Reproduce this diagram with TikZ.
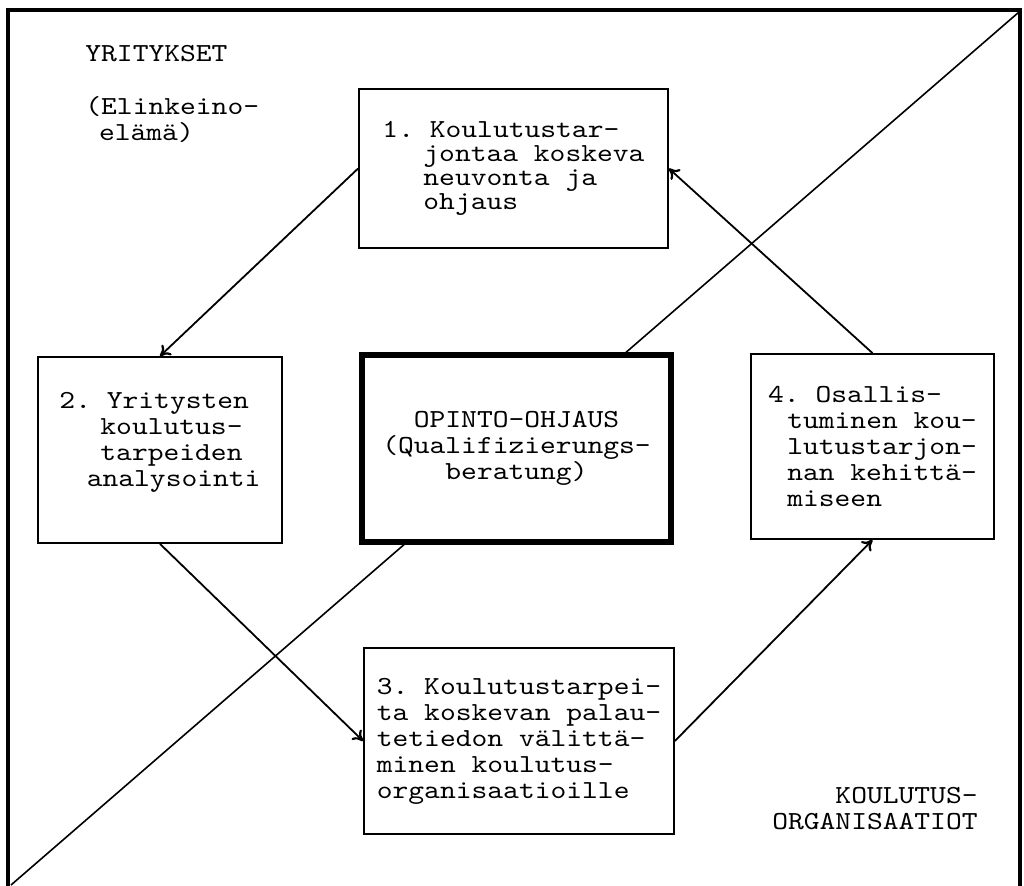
\documentclass[tikz,border=0pt]{standalone}
\usepackage{fontspec}
\setmonofont{lmmono10-regular.otf}[FakeStretch=1.157]
\usetikzlibrary{arrows.meta}

\begin{document}
\begin{tikzpicture}[x=0.5pt, y=-0.5pt,
    boxtext/.style={font=\ttfamily\fontsize{13}{13}\selectfont},
    stepbox/.style={boxtext, draw, fill=white, line width=0.9pt, align=left},
    flow/.style={line width=0.9pt, -{To[length=5pt,width=7pt,line width=1.1pt]}},
    sidelabel/.style={boxtext, inner sep=0pt}]

    \useasboundingbox (0,0) rectangle (1024,885);

    % 1. Frame and the diagonal behind the boxes
    \coordinate (sw) at (11,885);
    \coordinate (ne) at (1019,12);
    \draw[line width=0.8pt] (sw) -- (ne);
    \draw[line width=1.8pt] (8,10) rectangle (1020,888);

    % 2. The four steps and the centre box
    \node[stepbox, minimum width=154.5pt, minimum height=79.5pt,
          font=\ttfamily\fontsize{13}{11.9}\selectfont] (b1) at (513.5,168.5)
        {1. Koulutustar-\\\hspace*{1.575em}jontaa koskeva\\\hspace*{1.575em}neuvonta ja\\\hspace*{1.575em}ohjaus};
    \node[stepbox, minimum width=122pt, minimum height=93pt] (b2) at (160,450)
        {2. Yritysten\\\hspace*{1.575em}koulutus-\\\hspace*{1.575em}tarpeiden\\\hspace*{1.05em}analysointi\\[-2pt]\mbox{}};
    \node[stepbox, line width=3pt, align=center, minimum width=154.5pt, minimum height=93.5pt] (oo) at (516.5,448.5)
        {OPINTO-OHJAUS\\(Qualifizierungs-\\beratung)};
    \node[stepbox, minimum width=155pt, minimum height=93pt] (b3) at (519,741)
        {3. Koulutustarpei-\\ta koskevan palau-\\tetiedon välittä-\\minen koulutus-\\organisaatioille};
    \node[stepbox, minimum width=121.5pt, minimum height=92.5pt] (b4) at (872.5,446.5)
        {4. Osallis-\\\hspace*{0.735em}tuminen kou-\\\hspace*{0.735em}lutustarjon-\\\hspace*{0.735em}nan kehittä-\\\hspace*{0.735em}miseen};

    % 3. Side labels
    \node[sidelabel, anchor=base west] (yr) at (85,61) {YRITYKSET};
    \node[sidelabel, anchor=base west, align=left] (el) at (85,140) {(Elinkeino-\\\hspace*{0.525em}elämä)};
    \node[sidelabel, anchor=base east, align=right] (ko) at (978,829) {KOULUTUS-\\ORGANISAATIOT};

    % 4. Arrows round the cycle
    \draw[flow] (b1.west) -- (b2.north);
    \draw[flow] (b2.south) -- (b3.west);
    \draw[flow] (b3.east) -- (b4.south);
    \draw[flow] (b4.north) -- (b1.east);

\end{tikzpicture}
\end{document}
